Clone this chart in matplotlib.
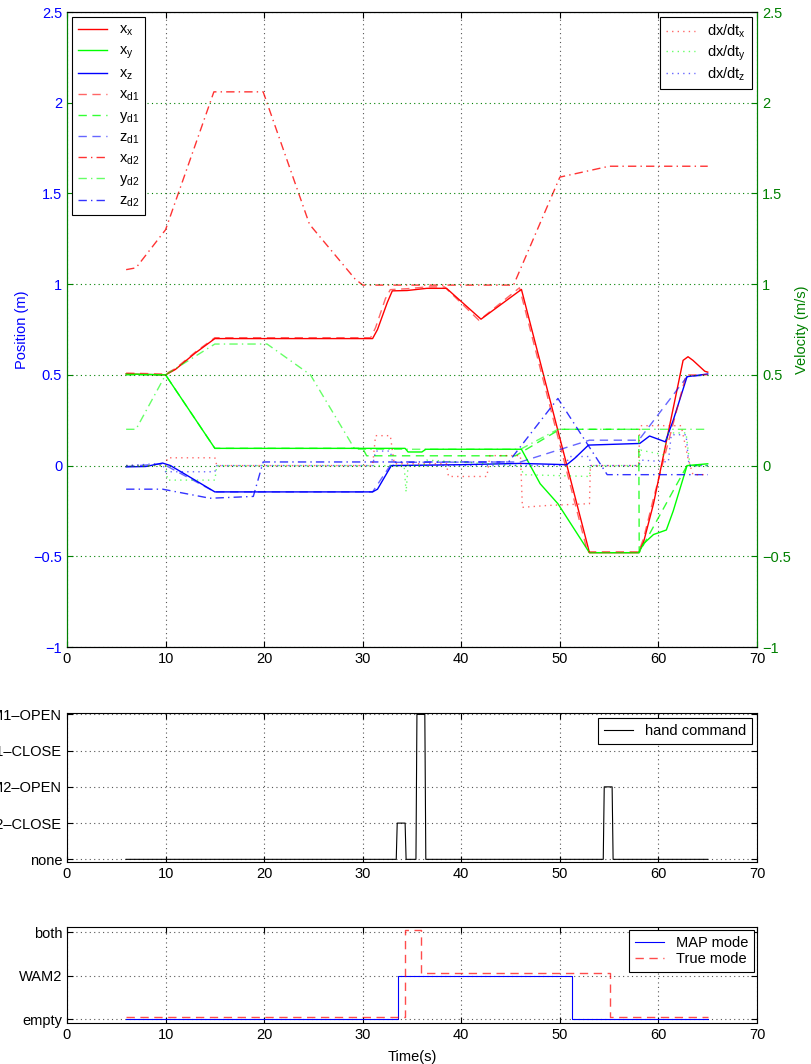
import numpy as np
import matplotlib
matplotlib.use("Agg")
import matplotlib.pyplot as plt
from matplotlib.ticker import FuncFormatter

plt.rcParams['font.family'] = ['Liberation Sans', 'DejaVu Sans']
plt.rcParams['font.size'] = 10.5
plt.rcParams['mathtext.default'] = 'regular'

# ===========================
# data
# ===========================

# positions
xx_t = [6, 10, 11, 13, 15, 31, 31.5, 32.5, 33, 34.5, 36.5, 38.5, 42, 46.1, 53, 58, 58.5, 59.5, 62.5, 63, 63.5, 64.7, 65]
xx_v = [0.505, 0.5, 0.53, 0.62, 0.70, 0.70, 0.75, 0.90, 0.963, 0.965, 0.977, 0.977, 0.807, 0.971, -0.48, -0.48, -0.42, -0.21, 0.58, 0.60, 0.58, 0.52, 0.515]

xy_t = [6, 10, 15, 34.3, 34.6, 36.0, 36.4, 46.1, 48, 49.8, 53, 58, 58.5, 59.5, 60.8, 61.5, 62.9, 65]
xy_v = [0.505, 0.5, 0.095, 0.095, 0.075, 0.075, 0.09, 0.09, -0.1, -0.21, -0.48, -0.48, -0.43, -0.38, -0.355, -0.25, 0.0, 0.01]

xz_t = [6, 8, 9.7, 10.5, 15, 31, 31.5, 32.9, 40, 46, 50.7, 51.5, 52.9, 58.1, 59.1, 60.7, 61.5, 62.9, 65]
xz_v = [-0.007, -0.005, 0.014, 0.0, -0.145, -0.145, -0.13, 0.0, 0.005, 0.012, 0.005, 0.04, 0.113, 0.122, 0.163, 0.131, 0.25, 0.49, 0.505]

xd1_t = [6, 10, 11, 13, 15, 30.8, 31.3, 32.3, 32.8, 34.5, 36.5, 38.3, 41.8, 45.9, 52.8, 58, 58.5, 59.5, 62.8, 65]
xd1_v = [0.51, 0.505, 0.535, 0.625, 0.705, 0.705, 0.76, 0.92, 0.97, 0.975, 0.985, 0.985, 0.80, 0.98, -0.475, -0.475, -0.40, -0.18, 0.50, 0.50]

yd1_t = [6, 10, 15, 30, 30.4, 45.5, 50, 58, 58.05, 62.9, 65]
yd1_v = [0.5, 0.5, 0.095, 0.095, 0.054, 0.054, 0.2, 0.2, -0.48, 0.0, 0.0]

zd1_t = [6, 9.7, 15, 31, 33, 46, 53, 58, 62.9, 65]
zd1_v = [-0.005, 0.01, -0.145, -0.145, 0.018, 0.02, 0.14, 0.14, 0.49, 0.5]

xd2_t = [6, 7, 10, 14.9, 19.9, 24.6, 29.2, 30, 45.3, 50, 55, 65]
xd2_v = [1.08, 1.09, 1.3, 2.06, 2.06, 1.33, 1.03, 0.995, 0.995, 1.59, 1.65, 1.65]

yd2_t = [6, 7, 10, 15, 20.3, 24.7, 29.2, 46, 49.8, 65]
yd2_v = [0.2, 0.2, 0.5, 0.67, 0.67, 0.5, 0.09, 0.09, 0.2, 0.2]

zd2_t = [6, 9.7, 14.5, 18.9, 19.9, 44.8, 49.8, 54.8, 65]
zd2_v = [-0.13, -0.13, -0.18, -0.17, 0.02, 0.02, 0.37, -0.05, -0.05]

# velocities
vx_t = [6, 10, 10.2, 15, 15.2, 31, 31.3, 32.8, 33.2, 38.5, 38.7, 42.6, 42.9, 46, 46.2, 48.7, 53, 53.1, 58, 58.1, 62.3, 63, 63.5, 65]
vx_v = [0, 0, 0.043, 0.043, 0, 0, 0.165, 0.165, 0.01, 0.01, -0.06, -0.06, 0.055, 0.055, -0.23, -0.22, -0.21, 0, 0, 0.22, 0.22, 0.04, -0.05, -0.05]

vy_t = [6, 10, 10.2, 15, 15.2, 34.2, 34.4, 34.6, 36.2, 36.5, 46, 46.3, 53, 53.1, 58, 58.2, 60.5, 61, 62.8, 63.2, 65]
vy_v = [0, 0, -0.08, -0.08, 0, 0, -0.145, 0, 0, 0.03, 0, -0.05, -0.06, 0, 0, 0.085, 0.06, 0.18, 0.18, 0.0, 0.0]

vz_t = [6, 9, 9.7, 10, 15, 15.2, 31, 31.3, 32.8, 33.1, 50.5, 51, 53, 53.1, 58, 58.3, 61, 61.3, 62.8, 63.1, 65]
vz_v = [0, 0.01, 0.01, -0.034, -0.034, 0, 0, 0.08, 0.08, 0, 0, 0.05, 0.05, 0, 0, 0.03, 0.02, 0.17, 0.17, 0, 0]

# hand command
hand_t = [6, 33.4, 33.5, 34.3, 34.4, 35.4, 35.5, 36.3, 36.4, 54.4, 54.5, 55.3, 55.4, 65]
hand_v = [0, 0, 1, 1, 0, 0, 4, 4, 0, 0, 2, 2, 0, 0]
hand_labels = ["none", "WAM2–CLOSE", "WAM2–OPEN", "WAM1–CLOSE", "WAM1–OPEN"]

# modes
map_t = [6, 33.6, 33.6, 51.2, 51.2, 65]
map_v = [0, 0, 1, 1, 0, 0]
true_t = [6, 34.3, 34.3, 35.9, 35.9, 55.1, 55.1, 65]
true_v = [0, 0, 2, 2, 1, 1, 0, 0]
mode_labels = ["empty", "WAM2", "both"]

# ===========================
# styles
# ===========================

GREEN_AX = (0, 0.5, 0)
DASH = (0, (6, 4))
DASHDOT = (0, (6, 3, 1, 3))
DOT = (0, (1, 3))

fig = plt.figure(figsize=(8.12, 10.64), dpi=100)

ax1 = fig.add_axes([0.0825, 0.3919, 0.8498, 0.5968])
ax2 = ax1.twinx()

h = []
h += ax1.plot(xx_t, xx_v, color="red", lw=1.0, label="x$_x$")
h += ax1.plot(xy_t, xy_v, color="#00ff00", lw=1.0, label="x$_y$")
h += ax1.plot(xz_t, xz_v, color="blue", lw=1.0, label="x$_z$")
h += ax1.plot(xd1_t, xd1_v, color="red", lw=1.0, ls=DASH, alpha=0.6, label="x$_{d1}$")
h += ax1.plot(yd1_t, yd1_v, color="#00ff00", lw=1.0, ls=DASH, alpha=0.8, label="y$_{d1}$")
h += ax1.plot(zd1_t, zd1_v, color="blue", lw=1.0, ls=DASH, alpha=0.6, label="z$_{d1}$")
h += ax1.plot(xd2_t, xd2_v, color="red", lw=1.0, ls=DASHDOT, alpha=0.8, label="x$_{d2}$")
h += ax1.plot(yd2_t, yd2_v, color="#00ff00", lw=1.0, ls=DASHDOT, alpha=0.6, label="y$_{d2}$")
h += ax1.plot(zd2_t, zd2_v, color="blue", lw=1.0, ls=DASHDOT, alpha=0.8, label="z$_{d2}$")

hv = []
hv += ax2.plot(vx_t, vx_v, color="red", lw=1.0, ls=DOT, alpha=0.6, label="dx/dt$_x$")
hv += ax2.plot(vy_t, vy_v, color="#00ff00", lw=1.0, ls=DOT, alpha=0.6, label="dx/dt$_y$")
hv += ax2.plot(vz_t, vz_v, color="blue", lw=1.0, ls=DOT, alpha=0.6, label="dx/dt$_z$")

fmt = FuncFormatter(lambda v, p: f"{v:g}".replace("-", "\u2212"))
for ax in (ax1, ax2):
    ax.set_xlim(0, 70)
    ax.set_ylim(-1, 2.5)
    ax.set_yticks(np.arange(-1, 2.51, 0.5))
    ax.yaxis.set_major_formatter(fmt)
    ax.tick_params(direction="in", length=4, top=True)
    ax.spines["left"].set_color(GREEN_AX)
    ax.spines["right"].set_color(GREEN_AX)

ax1.set_xticks(np.arange(0, 71, 10))
ax1.tick_params(axis="y", colors="blue")
ax1.tick_params(axis="y", color=GREEN_AX)
ax2.tick_params(axis="y", colors=GREEN_AX)
ax1.set_ylabel("Position (m)", color="blue", labelpad=3)
ax2.set_ylabel("Velocity (m/s)", color=GREEN_AX, labelpad=3)

ax1.grid(axis="x", color="#555555", ls=DOT, lw=0.8)
ax2.grid(axis="y", color=GREEN_AX, ls=DOT, lw=0.8)

leg_kw = dict(fancybox=False, edgecolor="black", framealpha=1, handlelength=2.0,
              borderaxespad=0.35, fontsize=10.5)
leg1 = ax2.legend(h, [l.get_label() for l in h], loc="upper left", labelspacing=0.38, **leg_kw)
leg1.get_frame().set_linewidth(0.8)
ax2.add_artist(leg1)
leg2 = ax2.legend(hv, [l.get_label() for l in hv], loc="upper right", labelspacing=0.2, **leg_kw)
leg2.get_frame().set_linewidth(0.8)

# hand command
ax3 = fig.add_axes([0.0825, 0.1898, 0.8498, 0.1403])
ax3.plot(hand_t, hand_v, color="black", lw=0.8, label="hand command")
ax3.set_xlim(0, 70)
ax3.set_ylim(-0.075, 4.045)
ax3.set_xticks(np.arange(0, 71, 10))
ax3.set_yticks(range(len(hand_labels)))
ax3.set_yticklabels(hand_labels)
ax3.tick_params(direction="in", length=4, top=True, right=True)
ax3.grid(color="#555555", ls=DOT, lw=0.8)
lg3 = ax3.legend(loc="upper right", **leg_kw)
lg3.get_frame().set_linewidth(0.8)

# mode
ax4 = fig.add_axes([0.0825, 0.0385, 0.8498, 0.0902])
ax4.plot(map_t, map_v, color="blue", lw=0.8, label="MAP mode")
ax4.plot(true_t, np.array(true_v) + 0.05, color="red", lw=1.0, ls=DASH, alpha=0.7, label="True mode")
ax4.set_xlim(0, 70)
ax4.set_ylim(-0.092, 2.115)
ax4.set_xticks(np.arange(0, 71, 10))
ax4.set_yticks(range(len(mode_labels)))
ax4.set_yticklabels(mode_labels)
ax4.tick_params(direction="in", length=4, top=True, right=True)
ax4.grid(color="#555555", ls=DOT, lw=0.8)
ax4.set_xlabel("Time(s)", labelpad=6)
lg4 = ax4.legend(loc="upper right", labelspacing=0.15, borderaxespad=0.2, fancybox=False,
                 edgecolor="black", framealpha=1, handlelength=2.0)
lg4.get_frame().set_linewidth(0.8)

fig.savefig("out.png", dpi=100)
